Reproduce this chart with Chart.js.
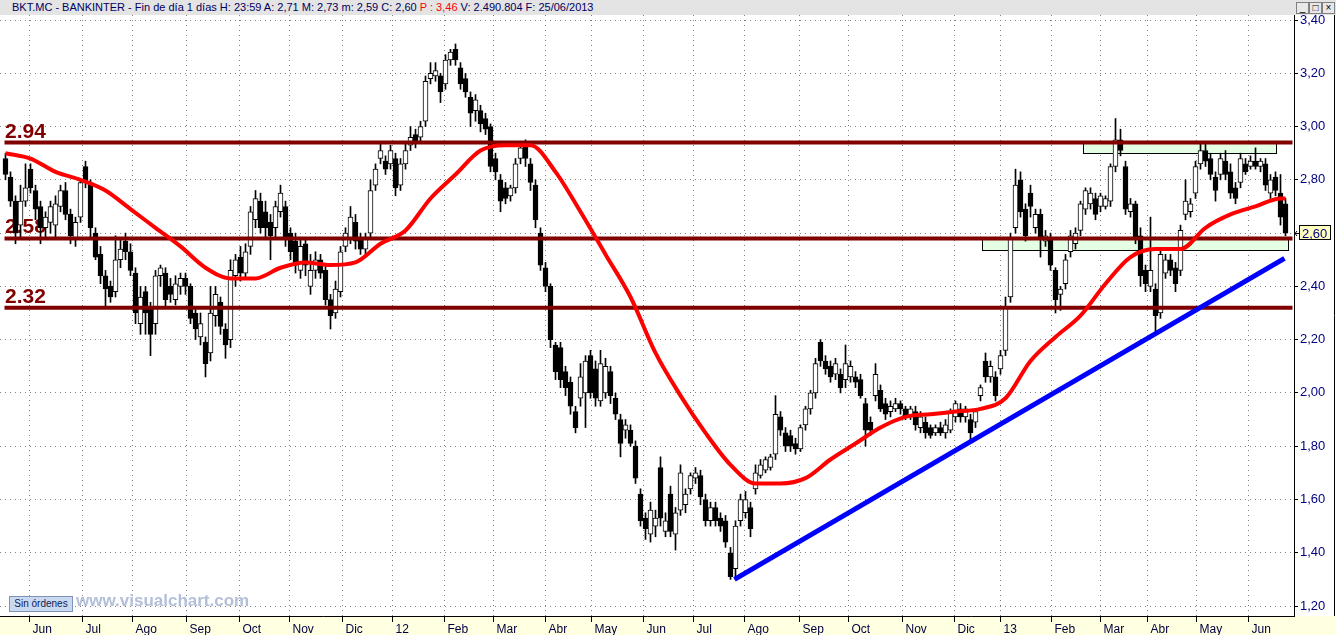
<!DOCTYPE html>
<html>
<head>
<meta charset="utf-8">
<script src="https://cdn.jsdelivr.net/npm/chart.js@4.4.1/dist/chart.umd.min.js"></script>
<style>
  body { margin: 0; width: 1336px; height: 635px; overflow: hidden; position: relative; background: #fff; font-family: "Liberation Sans", Arial, sans-serif; }
  #c { position: absolute; left: 0; top: 0; }
  #hdr { position: absolute; left: 0; top: 0; width: 1336px; height: 15px; background: #e4e4e4; font-size: 11px; line-height: 15px; color: #000060; white-space: pre; }
  #hdr span.t { position: absolute; left: 12px; top: 0; }
  #hdr .red { color: #ff0000; }
  .wb { position: absolute; top: 2px; width: 11px; height: 10px; border: 1px solid #808080; background: #e8e8e8; font-size: 10px; line-height: 9px; text-align: center; color: #000; }
  #sin { position: absolute; left: 9px; top: 596px; width: 62px; height: 14px; background: #c9d9f2; border: 1px solid #7f93b8; font-size: 10px; line-height: 14px; text-align: center; color: #102050; }
  #wm { position: absolute; left: 76px; top: 591px; font-size: 17px; font-weight: bold; color: #b3bfd8; }
</style>
</head>
<body>
<canvas id="c" width="1336" height="635"></canvas>
<div id="hdr"><span class="t">BKT.MC - BANKINTER - Fin de día 1 días H: 23:59 A: 2,71 M: 2,73 m: 2,59 C: 2,60 <span class="red">P : 3,46</span> V: 2.490.804 F: 25/06/2013</span></div>
<div class="wb" style="left:1296px">_</div>
<div class="wb" style="left:1309px">□</div>
<div class="wb" style="left:1322px">×</div>
<div id="sin">Sin órdenes</div>
<div id="wm">www.visualchart.com</div>
<script>
// daily candles sampled about every second session, May 2011 - 25/06/2013
const opens = [
  2.88,2.81,2.72,2.63,2.72,2.84,2.76,2.70,2.62,2.64,
  2.63,2.70,2.76,2.67,2.58,2.66,2.85,2.79,2.60,2.52,
  2.44,2.40,2.38,2.50,2.57,2.53,2.45,2.26,2.38,2.32,
  2.26,2.44,2.45,2.40,2.35,2.40,2.43,2.40,2.30,2.21,
  2.19,2.15,2.29,2.34,2.24,2.20,2.44,2.51,2.45,2.55,
  2.65,2.72,2.68,2.64,2.62,2.68,2.70,2.60,2.57,2.46,
  2.56,2.40,2.46,2.50,2.46,2.35,2.30,2.38,2.55,2.58,
  2.64,2.58,2.54,2.60,2.78,2.88,2.87,2.86,2.88,2.78,
  2.86,2.93,2.97,2.96,3.02,3.18,3.19,3.19,3.16,3.25,
  3.29,3.22,3.18,3.11,3.06,3.06,3.03,3.00,2.88,2.80,
  2.77,2.74,2.77,2.88,2.93,2.86,2.78,2.60,2.47,2.40,
  2.18,2.17,2.08,2.04,1.93,1.98,2.00,2.14,2.09,1.97,
  2.00,2.08,1.98,1.90,1.86,1.86,1.80,1.62,1.53,1.47,
  1.50,1.72,1.48,1.62,1.47,1.56,1.58,1.64,1.68,1.69,
  1.60,1.52,1.57,1.53,1.52,1.40,1.34,1.52,1.55,1.57,
  1.64,1.69,1.71,1.72,1.77,1.91,1.85,1.84,1.81,1.79,
  1.88,1.94,2.00,2.19,2.12,2.10,2.07,2.07,2.05,2.06,
  2.06,2.05,1.96,1.89,1.99,2.01,1.96,1.93,1.94,1.96,
  1.94,1.91,1.93,1.87,1.89,1.87,1.85,1.87,1.85,1.86,
  1.91,1.94,1.91,1.90,1.89,1.99,2.12,2.06,2.06,2.09,
  2.16,2.36,2.62,2.80,2.69,2.75,2.62,2.67,2.57,2.58,
  2.46,2.37,2.41,2.53,2.56,2.61,2.69,2.71,2.73,2.70,
  2.70,2.72,2.85,2.95,2.85,2.68,2.71,2.59,2.46,2.40,
  2.39,2.30,2.45,2.50,2.47,2.46,2.67,2.68,2.75,2.86,
  2.91,2.88,2.81,2.82,2.87,2.83,2.77,2.79,2.86,2.85,
  2.87,2.85,2.86,2.75,2.81,2.75,2.71
];
const highs = [
  2.90,2.83,2.74,2.78,2.86,2.86,2.78,2.72,2.68,2.72,
  2.74,2.78,2.79,2.69,2.66,2.80,2.87,2.80,2.62,2.55,
  2.46,2.42,2.59,2.58,2.60,2.56,2.47,2.40,2.40,2.34,
  2.46,2.48,2.47,2.43,2.44,2.45,2.45,2.41,2.32,2.30,
  2.21,2.40,2.40,2.36,2.26,2.50,2.52,2.55,2.56,2.70,
  2.76,2.75,2.72,2.67,2.72,2.78,2.72,2.62,2.60,2.58,
  2.58,2.52,2.53,2.52,2.48,2.37,2.42,2.55,2.62,2.70,
  2.67,2.60,2.60,2.80,2.86,2.94,2.89,2.93,2.90,2.88,
  2.94,3.00,2.99,3.02,3.19,3.24,3.24,3.20,3.27,3.29,
  3.31,3.24,3.20,3.13,3.12,3.08,3.05,3.01,2.90,2.82,
  2.79,2.78,2.88,2.94,2.95,2.88,2.80,2.62,2.49,2.41,
  2.19,2.19,2.10,2.06,1.95,2.11,2.14,2.16,2.12,2.16,
  2.13,2.10,2.00,1.92,1.90,1.88,1.82,1.64,1.55,1.59,
  1.56,1.76,1.55,1.65,1.57,1.73,1.64,1.70,1.72,1.71,
  1.62,1.59,1.59,1.55,1.54,1.42,1.52,1.62,1.63,1.59,
  1.73,1.75,1.76,1.77,1.99,1.93,1.87,1.86,1.83,1.88,
  1.95,2.01,2.13,2.20,2.14,2.12,2.13,2.09,2.18,2.12,
  2.08,2.07,1.98,1.91,2.11,2.03,1.98,1.97,1.98,1.97,
  1.95,1.95,1.95,1.93,1.91,1.88,1.88,1.89,1.90,1.94,
  1.97,1.96,1.95,1.92,1.94,2.03,2.15,2.12,2.08,2.16,
  2.36,2.60,2.84,2.83,2.71,2.78,2.69,2.69,2.61,2.60,
  2.47,2.40,2.52,2.61,2.62,2.72,2.77,2.77,2.75,2.75,
  2.74,2.86,3.03,2.99,2.87,2.73,2.72,2.62,2.48,2.66,
  2.41,2.54,2.52,2.52,2.49,2.63,2.80,2.73,2.87,2.94,
  2.94,2.90,2.83,2.90,2.91,2.86,2.79,2.90,2.88,2.89,
  2.92,2.88,2.88,2.82,2.83,2.82,2.73
];
const lows = [
  2.80,2.70,2.56,2.58,2.70,2.75,2.65,2.56,2.58,2.60,
  2.58,2.68,2.65,2.56,2.55,2.64,2.77,2.58,2.50,2.41,
  2.32,2.34,2.36,2.47,2.50,2.44,2.26,2.22,2.22,2.14,
  2.22,2.40,2.32,2.34,2.33,2.37,2.37,2.26,2.20,2.18,
  2.06,2.12,2.25,2.22,2.13,2.17,2.40,2.42,2.43,2.52,
  2.62,2.60,2.58,2.50,2.58,2.66,2.55,2.50,2.45,2.43,
  2.44,2.37,2.43,2.43,2.33,2.24,2.28,2.36,2.53,2.56,
  2.54,2.52,2.52,2.58,2.76,2.86,2.82,2.84,2.74,2.76,
  2.84,2.91,2.92,2.94,3.00,3.16,3.17,3.09,3.14,3.23,
  3.23,3.14,3.11,3.00,3.02,2.98,2.97,2.83,2.80,2.68,
  2.71,2.72,2.75,2.86,2.85,2.76,2.62,2.46,2.38,2.17,
  2.05,2.02,1.99,1.92,1.85,1.95,1.87,1.98,1.95,1.95,
  1.98,1.96,1.90,1.76,1.83,1.80,1.66,1.50,1.45,1.44,
  1.46,1.50,1.46,1.46,1.41,1.54,1.55,1.62,1.66,1.58,
  1.50,1.50,1.50,1.48,1.42,1.30,1.30,1.50,1.53,1.46,
  1.62,1.68,1.70,1.71,1.75,1.84,1.78,1.78,1.77,1.78,
  1.86,1.92,1.98,2.10,2.07,2.04,2.05,2.00,2.02,2.04,
  2.02,1.98,1.80,1.84,1.97,1.93,1.90,1.91,1.93,1.92,
  1.90,1.90,1.86,1.85,1.83,1.83,1.84,1.84,1.83,1.85,
  1.89,1.89,1.89,1.82,1.87,1.97,2.04,2.04,1.97,2.07,
  2.14,2.34,2.60,2.66,2.57,2.66,2.60,2.51,2.55,2.46,
  2.30,2.31,2.39,2.51,2.54,2.59,2.67,2.69,2.65,2.68,
  2.69,2.70,2.83,2.89,2.67,2.66,2.56,2.40,2.38,2.38,
  2.23,2.28,2.43,2.44,2.38,2.44,2.65,2.66,2.73,2.84,
  2.85,2.80,2.72,2.80,2.80,2.73,2.71,2.77,2.82,2.84,
  2.84,2.83,2.76,2.73,2.74,2.63,2.59
];
const closes = [
  2.82,2.72,2.60,2.72,2.77,2.77,2.69,2.62,2.66,2.70,
  2.71,2.76,2.67,2.59,2.64,2.79,2.79,2.62,2.51,2.44,
  2.39,2.36,2.50,2.54,2.53,2.46,2.30,2.36,2.30,2.22,
  2.44,2.47,2.35,2.37,2.41,2.43,2.40,2.28,2.24,2.26,
  2.11,2.30,2.37,2.25,2.18,2.46,2.50,2.45,2.53,2.68,
  2.73,2.62,2.62,2.59,2.70,2.75,2.58,2.53,2.48,2.55,
  2.48,2.46,2.50,2.45,2.35,2.29,2.39,2.53,2.60,2.66,
  2.57,2.54,2.58,2.76,2.84,2.91,2.84,2.91,2.77,2.86,
  2.91,2.96,2.94,3.00,3.17,3.20,3.21,3.13,3.25,3.28,
  3.25,3.16,3.13,3.05,3.10,3.01,2.99,2.85,2.83,2.72,
  2.73,2.77,2.86,2.92,2.88,2.79,2.65,2.48,2.40,2.20,
  2.08,2.05,2.02,1.95,1.87,2.06,2.12,2.00,1.98,2.11,
  2.10,1.99,1.92,1.81,1.88,1.81,1.68,1.52,1.49,1.56,
  1.53,1.53,1.52,1.48,1.55,1.70,1.62,1.69,1.70,1.61,
  1.52,1.57,1.52,1.50,1.44,1.31,1.50,1.60,1.60,1.49,
  1.70,1.73,1.75,1.76,1.92,1.86,1.80,1.80,1.79,1.87,
  1.94,2.00,2.11,2.12,2.09,2.06,2.11,2.02,2.11,2.10,
  2.04,1.99,1.86,1.86,2.07,1.94,1.92,1.95,1.96,1.94,
  1.91,1.94,1.88,1.91,1.85,1.84,1.87,1.85,1.88,1.93,
  1.96,1.91,1.94,1.85,1.93,2.02,2.06,2.10,1.99,2.14,
  2.32,2.58,2.78,2.68,2.59,2.70,2.67,2.58,2.59,2.48,
  2.35,2.39,2.50,2.59,2.60,2.71,2.76,2.75,2.67,2.74,
  2.73,2.85,2.95,2.91,2.69,2.71,2.58,2.44,2.41,2.46,
  2.29,2.52,2.50,2.46,2.41,2.61,2.72,2.71,2.85,2.91,
  2.87,2.82,2.76,2.88,2.82,2.75,2.73,2.88,2.83,2.87,
  2.85,2.87,2.78,2.80,2.76,2.66,2.60
];

// red moving average, read every 5 bars
const maIdx = [0,5,10,15,20,25,30,35,40,45,50,55,60,65,70,75,80,85,90,95,100,105,110,115,120,125,
  130,135,140,145,150,155,160,165,170,175,180,185,190,195,200,205,210,215,220,225,230,235,240,245,250,255,256];
const maValues = [2.90,2.88,2.83,2.80,2.76,2.69,2.62,2.55,2.47,2.43,2.43,2.47,2.49,2.48,2.49,2.56,2.61,2.73,2.82,2.91,2.93,2.93,2.83,2.68,2.52,2.36,
  2.15,1.99,1.85,1.73,1.66,1.66,1.68,1.75,1.81,1.87,1.91,1.92,1.93,1.94,1.98,2.12,2.21,2.29,2.41,2.51,2.54,2.54,2.62,2.67,2.70,2.73,2.73];

// blue support line
const trendIdx = [145.8, 255.8];
const trendValues = [1.30, 2.505];

// dark red horizontal levels
const levels = [2.94, 2.58, 2.32];
const levelFrom = -0.2, levelTo = 257.4;

// light green zones
const zoneStart = [195.4, 215.4];
const zoneEnd = [256.4, 254.2];
const zoneLow = [2.537, 2.90];
const zoneHigh = [2.586, 2.94];

const yTicks = [1.2, 1.4, 1.6, 1.8, 2.0, 2.2, 2.4, 2.6, 2.8, 3.0, 3.2, 3.4];
const monthLabels = ['Jun','Jul','Ago','Sep','Oct','Nov','Dic','12','Feb','Mar','Abr','May',
  'Jun','Jul','Ago','Sep','Oct','Nov','Dic','13','Feb','Mar','Abr','May','Jun'];
const monthPos = [4.8,15.4,25.4,36.2,46.8,56.8,67.4,77.4,87.8,97.6,108,117.2,
  127.6,137.6,147.8,158.8,168.6,179.4,189.8,199,209.2,219,228.4,238.2,248.6];

const comma = v => v.toFixed(2).replace('.', ',');

const wickData = highs.map((h, i) => ({ x: i, y: [lows[i], h] }));
const bodyData = opens.map((o, i) => ({ x: i, y: [o, closes[i]] }));
const bodyColors = opens.map((o, i) => closes[i] >= o ? '#ffffff' : '#000000');

const levelSets = levels.map(l => ({
  type: 'line',
  data: [{ x: levelFrom, y: l }, { x: levelTo, y: l }],
  borderColor: '#800000',
  borderWidth: 4,
  pointRadius: 0,
  order: 3
}));

const panels = {
  id: 'panels',
  beforeDraw(chart) {
    const { ctx, chartArea: a, width, height } = chart;
    ctx.save();
    ctx.fillStyle = '#ffffe1';
    ctx.fillRect(0, a.bottom, width, height - a.bottom);
    ctx.restore();
  },
  beforeDatasetsDraw(chart) {
    const { ctx, scales: { x, y } } = chart;
    ctx.save();
    zoneStart.forEach((s, i) => {
      const x0 = Math.round(x.getPixelForValue(s)) + 0.5;
      const x1 = Math.round(x.getPixelForValue(zoneEnd[i])) + 0.5;
      const y0 = Math.round(y.getPixelForValue(zoneHigh[i])) + 0.5;
      const y1 = Math.round(y.getPixelForValue(zoneLow[i])) + 0.5;
      ctx.fillStyle = '#e4ffe4';
      ctx.fillRect(x0, y0, x1 - x0, y1 - y0);
      ctx.strokeStyle = '#000';
      ctx.lineWidth = 1;
      ctx.strokeRect(x0, y0, x1 - x0, y1 - y0);
    });
    // level captions sit under the candles
    ctx.font = 'bold 21px "Liberation Sans", Arial, sans-serif';
    ctx.fillStyle = '#800000';
    ctx.textBaseline = 'alphabetic';
    levels.forEach(l => {
      ctx.fillText(l.toFixed(2), 5, y.getPixelForValue(l) - 5);
    });
    ctx.restore();
  },
  afterDraw(chart) {
    const { ctx, chartArea: a, scales: { y }, width } = chart;
    ctx.save();
    // last price tag
    const last = closes[closes.length - 1];
    const py = Math.round(y.getPixelForValue(last));
    ctx.fillStyle = '#ffffc0';
    ctx.fillRect(1299.5, py - 7.5, 31, 14);
    ctx.strokeStyle = '#000';
    ctx.lineWidth = 1;
    ctx.strokeRect(1299.5, py - 7.5, 31, 14);
    ctx.beginPath();
    ctx.moveTo(a.right + 1, py + 0.5);
    ctx.lineTo(1299, py + 0.5);
    ctx.moveTo(a.right + 3, py - 2);
    ctx.lineTo(a.right + 1, py + 0.5);
    ctx.lineTo(a.right + 3, py + 3);
    ctx.stroke();
    ctx.fillStyle = '#000080';
    ctx.font = '13px "Liberation Sans", Arial, sans-serif';
    ctx.textBaseline = 'middle';
    ctx.fillText(comma(last), 1302, py + 1);
    // outer frame on the right
    ctx.beginPath();
    ctx.moveTo(width - 1.5, 15);
    ctx.lineTo(width - 1.5, a.bottom);
    ctx.stroke();
    ctx.restore();
  }
};

new Chart(document.getElementById('c'), {
  type: 'bar',
  data: {
    datasets: [
      { type: 'bar', data: wickData, backgroundColor: '#000', barThickness: 1, grouped: false, order: 5 },
      { type: 'bar', data: bodyData, backgroundColor: bodyColors, borderColor: '#000', borderWidth: 1,
        borderSkipped: false, barThickness: 5, grouped: false, order: 4 },
      ...levelSets,
      { type: 'line', data: maIdx.map((v, i) => ({ x: v, y: maValues[i] })), borderColor: '#ff0000',
        borderWidth: 4, pointRadius: 0, cubicInterpolationMode: 'monotone', order: 2 },
      { type: 'line', data: trendIdx.map((v, i) => ({ x: v, y: trendValues[i] })), borderColor: '#0000ff',
        borderWidth: 5, pointRadius: 0, order: 1 }
    ]
  },
  options: {
    responsive: false,
    animation: false,
    devicePixelRatio: 1,
    layout: { padding: { top: 15, left: 0, right: 0, bottom: 0 } },
    plugins: { legend: { display: false }, tooltip: { enabled: false } },
    scales: {
      x: {
        type: 'linear',
        min: -1.1,
        max: 257.7,
        offset: false,
        grid: { color: '#808080', offset: false, tickLength: 6, tickColor: '#000', tickWidth: 1 },
        border: { color: '#000', width: 1, dash: [1, 4] },
        ticks: {
          autoSkip: false, maxRotation: 0, align: 'start', labelOffset: 3, padding: 0,
          color: '#000040', font: { family: '"Liberation Sans", Arial, sans-serif', size: 12 },
          callback: (v, i) => monthLabels[i]
        },
        afterBuildTicks: s => { s.ticks = monthPos.map(v => ({ value: v })); },
        afterFit: s => { s.height = 19; }
      },
      y: {
        position: 'right',
        min: 1.1625,
        max: 3.4188,
        grid: { color: '#808080', tickLength: 4, tickColor: '#000', tickWidth: 1 },
        border: { color: '#000', width: 1, dash: [1, 4] },
        ticks: {
          padding: 2, color: '#000080',
          font: { family: '"Liberation Sans", Arial, sans-serif', size: 13 },
          callback: v => comma(v)
        },
        afterBuildTicks: s => { s.ticks = yTicks.map(v => ({ value: v })); },
        afterFit: s => { s.width = 42; }
      }
    }
  },
  plugins: [panels]
});
</script>
</body>
</html>
